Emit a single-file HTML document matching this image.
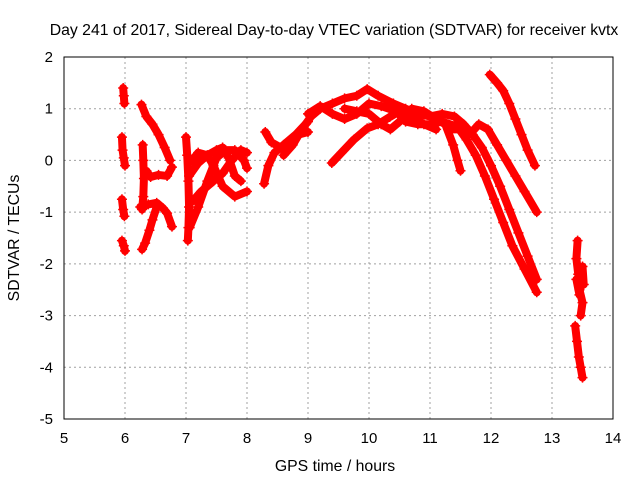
<!DOCTYPE html>
<html><head><meta charset="utf-8"><style>
body{margin:0;background:#fff}
svg{display:block;font-family:"Liberation Sans",sans-serif}
</style></head><body>
<svg id="chart" width="640" height="480">
<text x="334" y="35" font-size="15.8" text-anchor="middle">Day 241 of 2017, Sidereal Day-to-day VTEC variation (SDTVAR) for receiver kvtx</text>
<text x="335" y="471" font-size="15.8" text-anchor="middle">GPS time / hours</text>
<text transform="translate(19,238) rotate(-90)" font-size="15.8" text-anchor="middle">SDTVAR / TECUs</text>
<g id="grid"></g>
<g id="ticks"></g>
<g id="marks"></g>
<rect x="64" y="57" width="549" height="362" fill="none" stroke="#000" stroke-width="1"/>
</svg>
<script>
const xTicks=[5,6,7,8,9,10,11,12,13,14];
const yTicks=[2,1,0,-1,-2,-3,-4,-5];
const tracks=[
[[5.97,1.4],[5.98,1.25],[5.99,1.1]],
[[5.95,0.45],[5.96,0.2],[5.98,0.05],[6.0,-0.1]],
[[5.95,-0.75],[5.97,-0.95],[5.99,-1.08]],
[[5.95,-1.55],[5.98,-1.65],[6.0,-1.75]],
[[6.27,1.08],[6.35,0.85],[6.45,0.7],[6.55,0.5],[6.65,0.25],[6.74,0.0]],
[[6.29,0.3],[6.3,0.0],[6.31,-0.35],[6.3,-0.7],[6.28,-0.95]],
[[6.35,-0.2],[6.42,-0.32],[6.55,-0.28],[6.69,-0.3],[6.77,-0.13]],
[[6.25,-0.9],[6.38,-0.85],[6.52,-0.82],[6.62,-0.92],[6.69,-1.02],[6.77,-1.28]],
[[6.52,-0.9],[6.45,-1.15],[6.4,-1.35],[6.33,-1.6],[6.28,-1.72]],
[[7.0,0.45],[7.02,0.1],[7.04,-0.4],[7.05,-0.9],[7.04,-1.3],[7.03,-1.55]],
[[7.06,-1.3],[7.2,-0.9],[7.35,-0.4],[7.5,0.05],[7.65,0.2],[7.8,0.2],[7.95,0.0],[8.0,-0.15]],
[[7.1,-0.8],[7.25,-0.6],[7.45,-0.4],[7.6,-0.25],[7.75,0.0],[7.9,0.2],[8.0,0.15]],
[[7.05,-0.3],[7.2,-0.05],[7.35,0.1],[7.5,0.2],[7.6,0.25],[7.7,0.05],[7.8,-0.3],[7.9,-0.4]],
[[7.1,0.0],[7.2,0.15],[7.35,0.1],[7.45,-0.1],[7.6,-0.5],[7.8,-0.7],[8.0,-0.6]],
[[8.28,-0.45],[8.35,-0.1],[8.45,0.15],[8.6,0.3],[8.8,0.5],[9.0,0.75]],
[[8.3,0.55],[8.4,0.35],[8.55,0.25],[8.7,0.3],[8.85,0.5],[9.0,0.55]],
[[8.6,0.1],[8.75,0.3],[8.9,0.6],[9.05,0.85],[9.2,1.0],[9.4,1.1],[9.6,1.2],[9.8,1.25],[9.97,1.38],[10.15,1.25],[10.4,1.1],[10.6,1.0],[10.8,0.9],[11.0,0.85],[11.2,0.9],[11.4,0.85],[11.55,0.7],[11.7,0.5],[11.85,0.25],[12.0,-0.1],[12.15,-0.5],[12.3,-0.95],[12.45,-1.4],[12.6,-1.85],[12.75,-2.3]],
[[9.0,0.9],[9.2,1.05],[9.4,0.9],[9.6,0.8],[9.8,0.9],[10.0,1.1],[10.2,1.05],[10.45,0.95],[10.6,0.75],[10.8,0.7],[11.0,0.7],[11.2,0.75],[11.45,0.65],[11.6,0.4],[11.75,0.1],[11.9,-0.3],[12.05,-0.75],[12.2,-1.2],[12.35,-1.65],[12.55,-2.1],[12.75,-2.55]],
[[9.39,-0.05],[9.55,0.15],[9.75,0.4],[9.97,0.62],[10.15,0.7],[10.34,0.84],[10.5,0.95],[10.7,0.85],[10.9,0.7],[11.1,0.6]],
[[9.6,1.0],[9.8,0.95],[10.0,0.9],[10.2,0.7],[10.35,0.6],[10.5,0.75],[10.7,1.0],[10.9,0.95],[11.1,0.8],[11.25,0.7],[11.38,0.3],[11.45,0.0],[11.5,-0.2]],
[[11.3,0.6],[11.5,0.6],[11.65,0.5],[11.8,0.7],[11.95,0.6],[12.1,0.3],[12.25,0.0],[12.4,-0.3],[12.55,-0.6],[12.75,-1.0]],
[[11.98,1.66],[12.1,1.5],[12.2,1.35],[12.3,1.1],[12.4,0.8],[12.5,0.5],[12.6,0.2],[12.72,-0.1]],
[[13.42,-1.55],[13.4,-1.9],[13.43,-2.2],[13.45,-2.5],[13.5,-2.75],[13.47,-3.0]],
[[13.4,-2.3],[13.45,-2.6],[13.5,-2.05],[13.52,-2.4]],
[[13.38,-3.2],[13.41,-3.5],[13.44,-3.8],[13.47,-4.0],[13.5,-4.2]]
];
const NS="http://www.w3.org/2000/svg";
const X=h=>64+(h-5)*61, Y=v=>57+(2-v)*(362/7);
const grid=document.getElementById('grid'),ticks=document.getElementById('ticks'),marks=document.getElementById('marks');
function mk(tag,a,p){const e=document.createElementNS(NS,tag);for(const k in a)e.setAttribute(k,a[k]);p.appendChild(e);return e;}
xTicks.forEach(t=>{
 const x=X(t);
 if(t>5&&t<14){const g=mk('line',{x1:x,x2:x,y1:57,y2:419,stroke:'#a0a0a0','stroke-dasharray':'2,3'},grid);
 
 }
 const l=mk('text',{x:x,y:443,'font-size':15,'text-anchor':'middle'},ticks);l.textContent=t;
 
 
});
yTicks.forEach(t=>{
 const y=Y(t);
 if(t<2&&t>-5){const g=mk('line',{x1:64,x2:613,y1:y,y2:y,stroke:'#a0a0a0','stroke-dasharray':'2,3'},grid);
 
 }
 const l=mk('text',{x:53,y:y+5,'font-size':15,'text-anchor':'end'},ticks);l.textContent=t;
 
 
});
tracks.forEach(tr=>{
 const pl=mk('polyline',{points:tr.map(p=>X(p[0])+','+Y(p[1])).join(' '),fill:'none',stroke:'#ff0000','stroke-width':8,'stroke-linecap':'round','stroke-linejoin':'round'},marks);
 
 
 tr.forEach(p=>{
  const x=X(p[0]),y=Y(p[1]);
  const m=mk('path',{d:`M${x-5},${y}H${x+5}M${x},${y-5}V${y+5}`,stroke:'#ff0000','stroke-width':1.5},marks);
  
  
 });
});
</script>
</body></html>
